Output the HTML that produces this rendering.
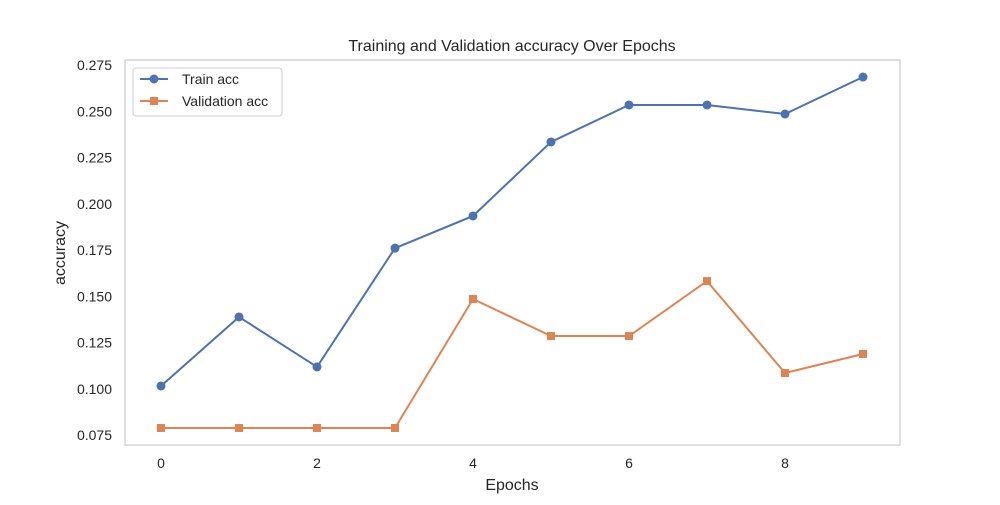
<!DOCTYPE html>
<html><head><meta charset="utf-8"><style>
body{margin:0;background:#fff;}
svg text{font-family:"Liberation Sans","DejaVu Sans",sans-serif;fill:#262626;}
</style></head><body>
<svg id="chart" width="1000" height="500" xmlns="http://www.w3.org/2000/svg">
<rect x="0" y="0" width="1000" height="500" fill="#fff"/>
<text x="512" y="51" text-anchor="middle" font-size="16">Training and Validation accuracy Over Epochs</text>
<rect x="125" y="60" width="775" height="385" fill="none" stroke="#cccccc" stroke-width="1.25"/>
<g id="ticks"></g>
<g id="series"></g>
<text x="512" y="490" text-anchor="middle" font-size="16">Epochs</text>
<text transform="translate(65,253) rotate(-90)" text-anchor="middle" font-size="16">accuracy</text>
<g>
<rect x="133" y="68" width="149" height="48" rx="3" fill="#fff" stroke="#cccccc"/>
<line x1="140" y1="79" x2="168" y2="79" stroke="#4c72b0" stroke-width="2"/>
<circle cx="154" cy="79" r="4.5" fill="#4c72b0"/>
<text x="182" y="84" font-size="14">Train acc</text>
<line x1="140" y1="101" x2="168" y2="101" stroke="#dd8452" stroke-width="2"/>
<rect x="150" y="97" width="8" height="8" fill="#dd8452"/>
<text x="182" y="106" font-size="14">Validation acc</text>
</g>
</svg>
<script>
const epochs=[0,1,2,3,4,5,6,7,8,9];
const trainAcc=[0.1015,0.1388,0.1118,0.176,0.1934,0.2334,0.2534,0.2534,0.2485,0.2685];
const valAcc=[0.0788,0.0788,0.0788,0.0788,0.1485,0.1285,0.1285,0.1582,0.1085,0.1188];
const yTicks=[0.075,0.100,0.125,0.150,0.175,0.200,0.225,0.250,0.275];
const xTicks=[0,2,4,6,8];
const NS="http://www.w3.org/2000/svg";
const xS=v=>161+v*78;
const yS=v=>65+(0.275-v)*1850;
const tg=document.getElementById('ticks');
function mk(tag,attrs,parent){const e=document.createElementNS(NS,tag);for(const k in attrs)e.setAttribute(k,attrs[k]);parent.appendChild(e);return e;}
yTicks.forEach(v=>{const t=mk('text',{x:112,y:yS(v)+5,'text-anchor':'end','font-size':14},tg);t.textContent=v.toFixed(3);

});
xTicks.forEach(v=>{const t=mk('text',{x:xS(v),y:468,'text-anchor':'middle','font-size':14},tg);t.textContent=v;

});
const sg=document.getElementById('series');
function line(vals,color,name){const p=mk('polyline',{points:vals.map((v,i)=>xS(epochs[i])+','+yS(v)).join(' '),fill:'none',stroke:color,'stroke-width':2},sg);

}
line(trainAcc,'#4c72b0','train-line');
line(valAcc,'#dd8452','validation-line');
trainAcc.forEach((v,i)=>{const c=mk('circle',{cx:xS(epochs[i]),cy:yS(v),r:4.5,fill:'#4c72b0'},sg);

});
valAcc.forEach((v,i)=>{const r=mk('rect',{x:xS(epochs[i])-4,y:yS(v)-4,width:8,height:8,fill:'#dd8452'},sg);

});
</script>
</body></html>
